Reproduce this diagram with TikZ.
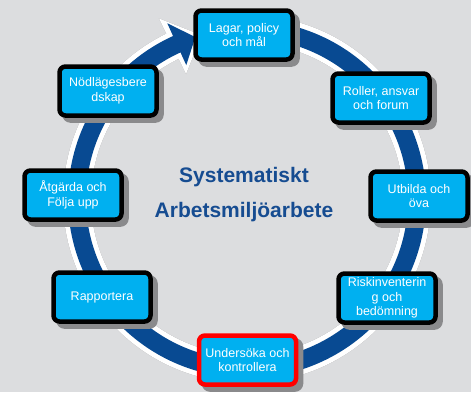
\documentclass[tikz,border=0pt]{standalone}
\usepackage{fontspec}
\setmainfont{Liberation Sans}
\usetikzlibrary{shadows,calc}
\definecolor{bg}{RGB}{220,221,223}
\definecolor{boxcyan}{RGB}{0,176,240}
\definecolor{ringblue}{RGB}{8,74,146}
\definecolor{titleblue}{RGB}{22,76,145}
\definecolor{shadowgray}{RGB}{138,138,140}
\begin{document}
\begin{tikzpicture}[x=1pt,y=-1pt,
  boxnode/.style={rounded corners=6pt, draw=black, line width=4.5pt, fill=boxcyan,
    text=white, minimum width=97pt, minimum height=49pt, align=center, inner sep=1pt,
    font=\fontsize{12.5}{14.5}\selectfont,
    general shadow={fill=shadowgray, draw=shadowgray, line width=4.5pt, shadow xshift=5pt, shadow yshift=-5pt}},
  ringwhite/.style={draw=white, line width=28pt},
  ringcore/.style={draw=ringblue, line width=18pt},
  ringshadow/.style={draw=shadowgray, line width=28pt}]
\useasboundingbox (0,0) rectangle (471,392);
\fill[bg] (0,0) rectangle (471,392);
\coordinate (C) at (247,199);
% ring shadow
\begin{scope}[shift={(5,5)}]
  \draw[ringshadow] (C) ++(-80:170) arc[start angle=-80, end angle=245, radius=170];
  \fill[shadowgray] ($(C)+(244:201)$) -- ($(C)+(244:139)$) -- ($(C)+(254.5:170)$) -- cycle;
\end{scope}
% ring white
\draw[ringwhite] (C) ++(-80:170) arc[start angle=-80, end angle=245, radius=170];
\fill[white] ($(C)+(244:201)$) -- ($(C)+(244:139)$) -- ($(C)+(254.5:170)$) -- cycle;
% ring blue
\draw[ringcore] (C) ++(-80:170) arc[start angle=-80, end angle=246.5, radius=170];
\fill[ringblue] ($(C)+(245.6:193)$) -- ($(C)+(245.6:147)$) -- ($(C)+(252.3:170)$) -- cycle;
% boxes
\node[boxnode] (lagar) at (244,35) {Lagar, policy\\och mål};
\node[boxnode] (roller) at (381,98) {Roller, ansvar\\och forum};
\node[boxnode] (utbilda) at (419,196) {Utbilda och\\öva};
\node[boxnode] (risk) at (387,298) {Riskinventerin\\g och\\bedömning};
\node[boxnode, draw=red] (under) at (247.5,360) {Undersöka och\\kontrollera};
\node[boxnode] (rapp) at (102,297) {Rapportera};
\node[boxnode] (atg) at (73,195) {Åtgärda och\\Följa upp};
\node[boxnode] (nod) at (108,91) {Nödlägesbere\\dskap};
% title
\node[text=titleblue, align=center, font=\fontsize{21}{35}\selectfont\bfseries] (title) at (244,195) {Systematiskt\\Arbetsmiljöarbete};
\end{tikzpicture}
\end{document}
